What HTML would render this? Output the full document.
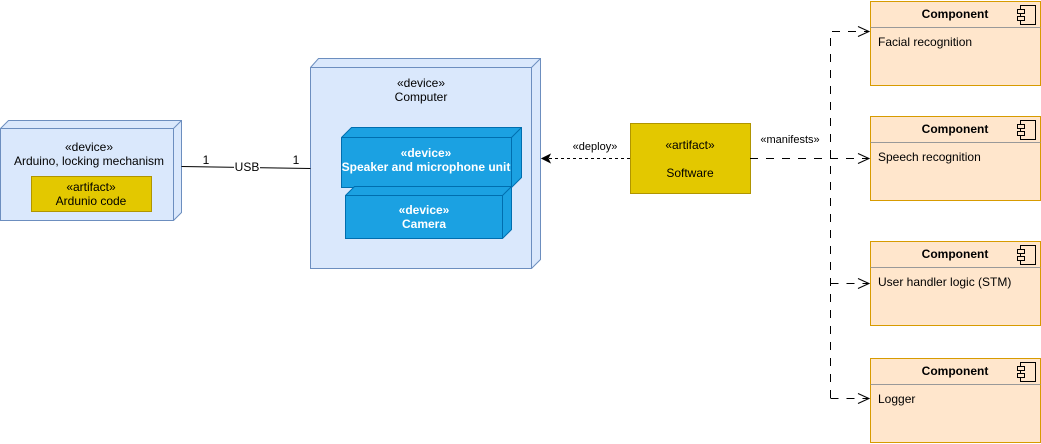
<!DOCTYPE html>
<html><head><meta charset="utf-8"><style>
html,body{margin:0;padding:0;background:#fff;width:1041px;height:444px;overflow:hidden}
svg{display:block;font-family:"Liberation Sans",Helvetica,Arial,sans-serif}
</style></head><body>
<svg width="1041" height="444" viewBox="0 0 1041 444" xmlns="http://www.w3.org/2000/svg">
<path d="M0.5,128.5 L8.5,120.5 L181.5,120.5 L181.5,212.5 L173.5,220.5 L0.5,220.5 Z" fill="#dae8fc" stroke="#6c8ebf"/>
<path d="M0.5,128.5 L173.5,128.5 L181.5,120.5 M173.5,128.5 L173.5,220.5" fill="none" stroke="#6c8ebf"/>
<text x="89" y="151" font-size="12" text-anchor="middle" fill="#000">«device»</text>
<text x="89" y="165" font-size="12" text-anchor="middle" fill="#000">Arduino, locking mechanism</text>
<rect x="31.5" y="176.5" width="120" height="35" fill="#e3c800" stroke="#b09500"/>
<text x="91" y="191" font-size="12" text-anchor="middle" fill="#000">«artifact»</text>
<text x="91" y="205" font-size="12" text-anchor="middle" fill="#000">Ardunio code</text>
<path d="M310.5,67.5 L318.5,58.5 L540.5,58.5 L540.5,259.5 L531.5,268.5 L310.5,268.5 Z" fill="#dae8fc" stroke="#6c8ebf"/>
<path d="M310.5,67.5 L531.5,67.5 L540.5,58.5 M531.5,67.5 L531.5,268.5" fill="none" stroke="#6c8ebf"/>
<text x="421" y="87" font-size="12" text-anchor="middle" fill="#000">«device»</text>
<text x="421" y="101" font-size="12" text-anchor="middle" fill="#000">Computer</text>
<path d="M341.5,137.5 L351.5,127.5 L521.5,127.5 L521.5,177.5 L511.5,187.5 L341.5,187.5 Z" fill="#1ba1e2" stroke="#006eaf"/>
<path d="M341.5,137.5 L511.5,137.5 L521.5,127.5 M511.5,137.5 L511.5,187.5" fill="none" stroke="#006eaf"/>
<text x="426" y="157" font-size="12" font-weight="bold" text-anchor="middle" fill="#fff">«device»</text>
<text x="426" y="171" font-size="12" font-weight="bold" text-anchor="middle" fill="#fff">Speaker and microphone unit</text>
<path d="M345.5,195.5 L354.5,186.5 L511.5,186.5 L511.5,229.5 L502.5,238.5 L345.5,238.5 Z" fill="#1ba1e2" stroke="#006eaf"/>
<path d="M345.5,195.5 L502.5,195.5 L511.5,186.5 M502.5,195.5 L502.5,238.5" fill="none" stroke="#006eaf"/>
<text x="424" y="214" font-size="12" font-weight="bold" text-anchor="middle" fill="#fff">«device»</text>
<text x="424" y="228" font-size="12" font-weight="bold" text-anchor="middle" fill="#fff">Camera</text>
<path d="M181.5,166.5 L310.5,168.5" stroke="#000" fill="none"/>
<rect x="234" y="160" width="26" height="13" fill="#fff"/>
<text x="247" y="171" font-size="12" text-anchor="middle" fill="#000">USB</text>
<text x="206" y="164" font-size="12" text-anchor="middle" fill="#000">1</text>
<text x="296" y="164" font-size="12" text-anchor="middle" fill="#000">1</text>
<rect x="630.5" y="123.5" width="120" height="70" fill="#e3c800" stroke="#b09500"/>
<text x="690" y="149" font-size="12" text-anchor="middle" fill="#000">«artifact»</text>
<text x="690" y="177" font-size="12" text-anchor="middle" fill="#000">Software</text>
<path d="M630,158.5 L549,158.5" stroke="#000" stroke-dasharray="3,3" fill="none"/>
<path d="M542,158.5 L550,154.5 L548,158.5 L550,162.5 Z" fill="#000" stroke="#000"/>
<text x="595" y="150" font-size="11" text-anchor="middle" fill="#000">«deploy»</text>
<text x="790" y="143" font-size="11" text-anchor="middle" fill="#000">«manifests»</text>
<g stroke="#000" fill="none" stroke-dasharray="8,8">
<path d="M750,158.5 L868,158.5"/>
<path d="M830.5,398 L830.5,31.5 L868,31.5"/>
<path d="M830.5,283.5 L868,283.5"/>
<path d="M830.5,398.5 L868,398.5"/>
</g>
<g stroke="#000" fill="none">
<path d="M858,26.5 L869,31.5 L858,36.5"/>
<path d="M858,153.5 L869,158.5 L858,163.5"/>
<path d="M858,278.5 L869,283.5 L858,288.5"/>
<path d="M858,393.5 L869,398.5 L858,403.5"/>
</g>
<g font-size="12" fill="#000">
<g transform="translate(0,0)">
<rect x="870.5" y="1.5" width="170" height="84" fill="#ffe6cc" stroke="#d79b00"/>
<line x1="870.5" y1="27.5" x2="1040.5" y2="27.5" stroke="#999"/>
<text x="955" y="18" text-anchor="middle" font-weight="bold">Component</text>
<text x="878" y="46">Facial recognition</text>
</g>
<g transform="translate(0,115)">
<rect x="870.5" y="1.5" width="170" height="84" fill="#ffe6cc" stroke="#d79b00"/>
<line x1="870.5" y1="27.5" x2="1040.5" y2="27.5" stroke="#999"/>
<text x="955" y="18" text-anchor="middle" font-weight="bold">Component</text>
<text x="878" y="46">Speech recognition</text>
</g>
<g transform="translate(0,240)">
<rect x="870.5" y="1.5" width="170" height="84" fill="#ffe6cc" stroke="#d79b00"/>
<line x1="870.5" y1="27.5" x2="1040.5" y2="27.5" stroke="#999"/>
<text x="955" y="18" text-anchor="middle" font-weight="bold">Component</text>
<text x="878" y="46">User handler logic (STM)</text>
</g>
<g transform="translate(0,357)">
<rect x="870.5" y="1.5" width="170" height="84" fill="#ffe6cc" stroke="#d79b00"/>
<line x1="870.5" y1="27.5" x2="1040.5" y2="27.5" stroke="#999"/>
<text x="955" y="18" text-anchor="middle" font-weight="bold">Component</text>
<text x="878" y="46">Logger</text>
</g>
</g>
<g fill="#ffe6cc" stroke="#000">
<g transform="translate(0,0)"><rect x="1020.5" y="5.5" width="15" height="19"/><rect x="1017.5" y="9.5" width="7" height="4"/><rect x="1017.5" y="16.5" width="7" height="4"/></g>
<g transform="translate(0,115)"><rect x="1020.5" y="5.5" width="15" height="19"/><rect x="1017.5" y="9.5" width="7" height="4"/><rect x="1017.5" y="16.5" width="7" height="4"/></g>
<g transform="translate(0,240)"><rect x="1020.5" y="5.5" width="15" height="19"/><rect x="1017.5" y="9.5" width="7" height="4"/><rect x="1017.5" y="16.5" width="7" height="4"/></g>
<g transform="translate(0,357)"><rect x="1020.5" y="5.5" width="15" height="19"/><rect x="1017.5" y="9.5" width="7" height="4"/><rect x="1017.5" y="16.5" width="7" height="4"/></g>
</g>
</svg>
</body></html>
